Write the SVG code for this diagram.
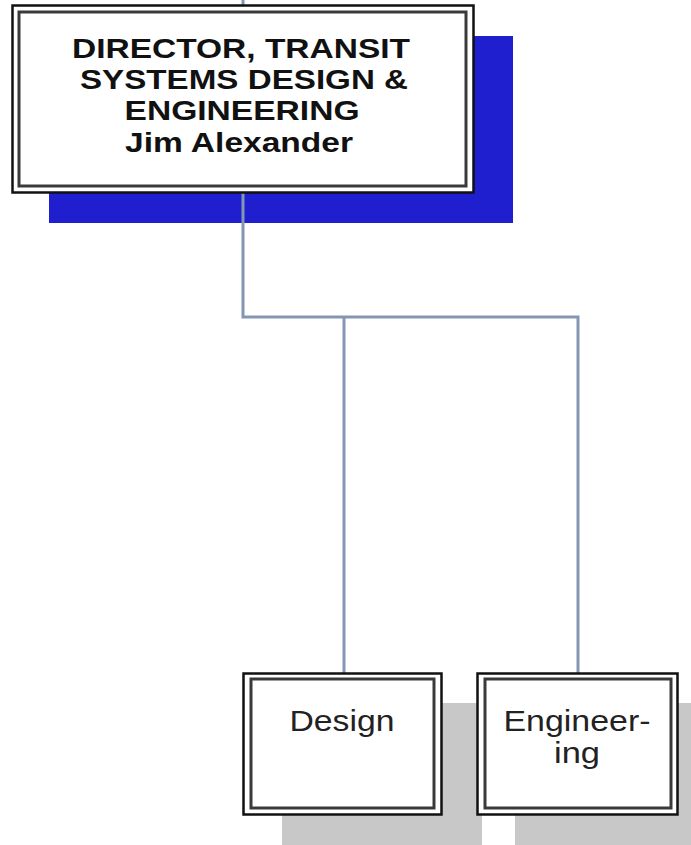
<svg xmlns="http://www.w3.org/2000/svg" width="691" height="845" viewBox="0 0 691 845">
<style>
.conn{fill:none;stroke:#8496b4;stroke-width:3}
.outer{fill:#fff;stroke:#111;stroke-width:2.5}
.inner{fill:#fff;stroke:#3a3a3a;stroke-width:3}
.t{font-family:"Liberation Sans",Arial,sans-serif;fill:#111;text-anchor:middle}
.b{font-weight:bold;font-size:28px}
.n{font-size:30px;fill:#222}
</style>
<rect width="691" height="845" fill="#fff"/>
<g id="shadows">
<rect x="49" y="36" width="464" height="187" fill="#1f1fcf"/>
<rect x="282" y="703" width="200" height="142" fill="#c8c8c8"/>
<rect x="515" y="703" width="176" height="142" fill="#c8c8c8"/>
</g>
<g id="connectors">
<polyline class="conn" points="243,0 243,317 578,317 578,673"/>
<line class="conn" x1="344" y1="317" x2="344" y2="673"/>
</g>
<g id="director">
<rect class="outer" x="12.5" y="5.5" width="461" height="187"/>
<rect class="inner" x="19" y="12" width="447" height="174" stroke="#555"/>
<text class="t b" x="241" y="58" textLength="338" lengthAdjust="spacingAndGlyphs">DIRECTOR, TRANSIT</text>
<text class="t b" x="244" y="89" textLength="328" lengthAdjust="spacingAndGlyphs">SYSTEMS DESIGN &amp;</text>
<text class="t b" x="242" y="120" textLength="235" lengthAdjust="spacingAndGlyphs">ENGINEERING</text>
<text class="t b" x="239" y="152" textLength="228" lengthAdjust="spacingAndGlyphs">Jim Alexander</text>
</g>
<g id="design">
<rect class="outer" x="243.5" y="673.5" width="198" height="141"/>
<rect class="inner" x="251" y="679" width="183" height="129"/>
<text class="t n" x="342" y="731" textLength="105" lengthAdjust="spacingAndGlyphs">Design</text>
</g>
<g id="engineering">
<rect class="outer" x="477.5" y="673.5" width="200" height="141"/>
<rect class="inner" x="485" y="679" width="186" height="129"/>
<text class="t n" x="577" y="731" textLength="147" lengthAdjust="spacingAndGlyphs">Engineer-</text>
<text class="t n" x="577" y="763" textLength="46" lengthAdjust="spacingAndGlyphs">ing</text>
</g>
</svg>
